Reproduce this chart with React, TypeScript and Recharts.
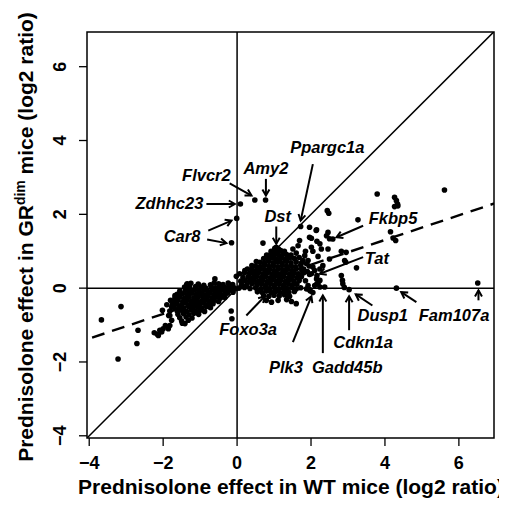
import { ScatterChart, Scatter, XAxis, YAxis, ReferenceLine, ReferenceArea, ReferenceDot, Label } from 'recharts'

const X_DOMAIN: [number, number] = [-4.06, 6.95]
const Y_DOMAIN: [number, number] = [-4.06, 6.94]
const xTicks = [-4, -2, 0, 2, 4, 6]
const yTicks = [-4, -2, 0, 2, 4, 6]

// dashed trend line
const trendIntercept = -0.03
const trendSlope = 0.334

// [WT effect, GRdim effect] pairs
const leftCluster: [number, number][] = [
  [-1.35, 0.1], [-1.05, 0.11], [-0.72, 0.09], [-0.5, 0.12], [-0.38, 0.1], [-0.2, 0.08],
  [-1.42, 0.03], [-1.28, 0.01], [-1.12, 0.04], [-0.98, 0.02], [-0.85, 0.0], [-0.7, 0.03], [-0.58, 0.01], [-0.46, 0.04], [-0.33, 0.02], [-0.22, 0.0], [-0.1, 0.02],
  [-1.55, -0.08], [-1.4, -0.06], [-1.27, -0.09], [-1.15, -0.05], [-1.03, -0.08], [-0.9, -0.06], [-0.78, -0.09], [-0.66, -0.05], [-0.55, -0.08], [-0.43, -0.06], [-0.31, -0.09], [-0.18, -0.05],
  [-1.62, -0.17], [-1.48, -0.15], [-1.35, -0.18], [-1.22, -0.14], [-1.1, -0.17], [-0.97, -0.15], [-0.85, -0.18], [-0.73, -0.14], [-0.61, -0.17], [-0.5, -0.15], [-0.38, -0.18], [-0.26, -0.14],
  [-1.68, -0.26], [-1.55, -0.24], [-1.42, -0.27], [-1.3, -0.23], [-1.17, -0.26], [-1.05, -0.24], [-0.92, -0.27], [-0.8, -0.23], [-0.68, -0.26], [-0.57, -0.24], [-0.45, -0.27], [-0.33, -0.25],
  [-1.72, -0.35], [-1.6, -0.33], [-1.47, -0.36], [-1.35, -0.32], [-1.23, -0.35], [-1.1, -0.33], [-0.98, -0.36], [-0.86, -0.32], [-0.74, -0.35], [-0.62, -0.33], [-0.5, -0.36],
  [-1.75, -0.44], [-1.63, -0.42], [-1.5, -0.45], [-1.38, -0.41], [-1.26, -0.44], [-1.14, -0.42], [-1.02, -0.45], [-0.9, -0.41], [-0.78, -0.44], [-0.65, -0.42],
  [-1.7, -0.53], [-1.57, -0.51], [-1.44, -0.54], [-1.31, -0.5], [-1.19, -0.53], [-1.07, -0.51], [-0.95, -0.54], [-0.83, -0.5], [-0.72, -0.53],
  [-1.62, -0.62], [-1.5, -0.6], [-1.37, -0.63], [-1.24, -0.59], [-1.12, -0.62], [-1.0, -0.6], [-0.88, -0.63],
  [-1.6, -0.71], [-1.45, -0.69], [-1.3, -0.72], [-1.17, -0.68], [-1.04, -0.71],
  [-1.55, -0.8], [-1.38, -0.78], [-1.22, -0.81],
  [-1.5, -0.89], [-1.32, -0.87],
  [-1.9, -0.45], [-1.82, -0.62], [-1.77, -0.87], [-1.82, -0.74], [-1.68, -0.2], [-1.8, -0.33], [-1.41, -0.96],
  [-1.25, 0.13], [-0.9, 0.08], [-0.62, 0.14], [-0.12, 0.1],
]

const centralCluster: [number, number][] = [
  [1.02, 1.08], [1.12, 1.06], [0.92, 1.0],
  [0.98, 1.0], [1.08, 0.98], [1.18, 1.02], [1.28, 1.0],
  [0.8, 0.9], [0.88, 0.9], [0.98, 0.88], [1.1, 0.92], [1.22, 0.89], [1.34, 0.91], [1.46, 0.9],
  [0.72, 0.8], [0.84, 0.78], [0.95, 0.82], [1.06, 0.79], [1.18, 0.81], [1.3, 0.78], [1.42, 0.82], [1.55, 0.8], [1.68, 0.83],
  [0.52, 0.72], [0.62, 0.7], [0.74, 0.68], [0.86, 0.72], [0.98, 0.69], [1.1, 0.71], [1.22, 0.68], [1.34, 0.72], [1.46, 0.69], [1.6, 0.71], [1.74, 0.68],
  [0.4, 0.61], [0.5, 0.6], [0.62, 0.58], [0.74, 0.62], [0.86, 0.59], [0.98, 0.61], [1.1, 0.58], [1.22, 0.62], [1.34, 0.59], [1.46, 0.61], [1.58, 0.58], [1.72, 0.62],
  [0.28, 0.52], [0.4, 0.5], [0.52, 0.48], [0.64, 0.52], [0.76, 0.49], [0.88, 0.51], [1.0, 0.48], [1.12, 0.52], [1.24, 0.49], [1.36, 0.51], [1.48, 0.48], [1.6, 0.52], [1.75, 0.49],
  [0.2, 0.41], [0.34, 0.4], [0.46, 0.38], [0.58, 0.42], [0.7, 0.39], [0.82, 0.41], [0.94, 0.38], [1.06, 0.42], [1.18, 0.39], [1.3, 0.41], [1.42, 0.38], [1.54, 0.42], [1.66, 0.39], [1.8, 0.41],
  [0.16, 0.29], [0.3, 0.3], [0.42, 0.28], [0.54, 0.32], [0.66, 0.29], [0.78, 0.31], [0.9, 0.28], [1.02, 0.32], [1.14, 0.29], [1.26, 0.31], [1.38, 0.28], [1.5, 0.32], [1.62, 0.29], [1.74, 0.31],
  [0.1, 0.19], [0.22, 0.2], [0.34, 0.18], [0.46, 0.22], [0.58, 0.19], [0.7, 0.21], [0.82, 0.18], [0.94, 0.22], [1.06, 0.19], [1.18, 0.21], [1.3, 0.18], [1.42, 0.22], [1.54, 0.19], [1.68, 0.21],
  [0.12, 0.1], [0.26, 0.08], [0.4, 0.12], [0.54, 0.09], [0.66, 0.11], [0.78, 0.08], [0.9, 0.12], [1.02, 0.09], [1.14, 0.11], [1.26, 0.08], [1.38, 0.12], [1.5, 0.09], [1.62, 0.11],
  [0.05, 0.0], [0.2, 0.02], [0.35, -0.01], [0.5, 0.01], [0.64, -0.02], [0.76, 0.01], [0.88, -0.01], [1.0, 0.02], [1.12, -0.02], [1.24, 0.01], [1.36, -0.01], [1.48, 0.02], [1.6, -0.02], [1.72, 0.01],
  [0.55, -0.1], [0.68, -0.12], [0.8, -0.08], [0.92, -0.11], [1.04, -0.09], [1.16, -0.12], [1.28, -0.08], [1.4, -0.11], [1.55, -0.09],
  [0.72, -0.2], [0.86, -0.22], [1.0, -0.19], [1.14, -0.21], [1.28, -0.18], [1.42, -0.22],
  [0.79, -0.33], [0.93, -0.38], [1.11, -0.33], [1.34, -0.31], [1.47, -0.36], [1.6, -0.42], [1.38, -0.21],
  [0.07, 0.39], [0.21, 0.48], [-0.11, -0.11], [-0.05, -0.02],
]

const scattered: [number, number][] = [
  [0.7, 1.22], [1.06, 1.11], [1.72, 1.67], [2.15, 1.58], [2.42, 1.42], [2.5, 1.34], [1.96, 1.38],
  [2.01, 1.11], [2.05, 1.0], [1.69, 1.29], [1.65, 1.15], [1.51, 1.06], [2.24, 1.2], [2.28, 1.06],
  [1.83, 0.88], [1.92, 0.75], [2.05, 0.57], [2.1, 0.48], [2.01, 0.39], [2.15, 0.25], [2.19, 0.12],
  [2.1, 0.07], [2.24, 0.03], [1.92, 0.07], [1.88, -0.02], [1.96, -0.04], [2.37, 0.03], [1.98, -0.08],
  [2.05, -0.12], [1.85, 0.2], [1.9, 0.45], [1.78, 0.75], [1.85, 1.0], [1.6, 0.95], [1.95, 0.6],
  [1.96, 0.37], [2.16, 0.34], [2.24, 0.21], [2.16, 0.12], [2.82, 0.34], [2.85, 0.21], [2.86, 0.12],
  [2.9, 0.02], [3.03, -0.04], [3.23, 0.55], [2.46, 1.06], [2.91, 0.75], [2.94, 0.7], [2.5, 0.79],
  [2.19, 0.86], [2.32, 0.61], [2.24, 0.52], [1.88, 0.66], [1.8, 0.52], [1.96, 1.65], [2.16, 1.27],
  [2.46, 1.51], [2.59, 1.33], [2.44, 2.1], [2.48, 2.03], [3.27, 1.85], [3.79, 2.55], [5.61, 2.66],
  [4.26, 2.46], [4.31, 2.37], [4.34, 2.28], [4.26, 2.21], [4.35, 2.23], [4.15, 1.53], [4.22, 1.36],
  [4.29, 1.29], [2.82, 1.0], [2.95, 0.97], [4.31, 0.0], [6.51, 0.14], [2.01, 1.35], [2.14, 1.56],
  [-0.15, 1.23], [-0.01, 1.89], [0.09, 2.28], [0.48, 2.39], [0.77, 2.39],
  [-0.02, 0.32], [-0.16, -0.62], [-0.14, -0.83], [-0.6, 0.25], [-0.24, 0.14], [-1.35, 0.12],
  [-1.36, 0.09], [-1.34, -0.06],
  [-3.67, -0.86], [-3.14, -0.5], [-3.22, -1.92], [-2.68, -1.14], [-2.71, -1.5], [-2.24, -1.21],
  [-2.16, -1.25], [-2.09, -1.14], [-2.0, -1.1], [-1.94, -1.01], [-2.02, -0.6], [-1.85, -0.74],
  [-1.77, -0.51], [-1.48, -0.95], [-2.13, -1.28], [-2.04, -1.19], [-1.86, -1.1], [-1.82, -1.01],
]

const points = [...leftCluster, ...centralCluster, ...scattered].map(([x, y]) => ({ x, y }))

type Pt = [number, number]
const annotations: { gene: string; text: Pt; arrows: [Pt, Pt][] }[] = [
  { gene: 'Ppargc1a', text: [2.44, 3.67], arrows: [[[2.05, 3.36], [1.72, 1.83]]] },
  { gene: 'Amy2', text: [0.78, 3.1], arrows: [[[0.78, 2.96], [0.78, 2.51]]] },
  { gene: 'Flvcr2', text: [-0.83, 2.91], arrows: [[[-0.2, 2.84], [0.39, 2.51]]] },
  { gene: 'Zdhhc23', text: [-1.83, 2.15], arrows: [[[-0.83, 2.28], [-0.06, 2.28]]] },
  { gene: 'Car8', text: [-1.49, 1.24], arrows: [[[-0.78, 1.56], [-0.15, 1.83]], [[-0.81, 1.32], [-0.29, 1.22]]] },
  { gene: 'Dst', text: [1.1, 1.78], arrows: [[[1.06, 1.67], [1.06, 1.2]]] },
  { gene: 'Fkbp5', text: [4.22, 1.74], arrows: [[[3.41, 1.69], [2.69, 1.38]]] },
  { gene: 'Tat', text: [3.78, 0.66], arrows: [[[3.41, 0.84], [2.24, 0.39]]] },
  { gene: 'Foxo3a', text: [0.3, -1.28], arrows: [[[0.25, -0.74], [0.75, -0.22]]] },
  { gene: 'Plk3', text: [1.32, -2.3], arrows: [[[1.51, -1.46], [2.01, -0.22]]] },
  { gene: 'Gadd45b', text: [2.98, -2.3], arrows: [[[2.32, -1.76], [2.32, -0.2]]] },
  { gene: 'Cdkn1a', text: [3.41, -1.62], arrows: [[[3.03, -1.14], [3.03, -0.22]]] },
  { gene: 'Dusp1', text: [3.94, -0.89], arrows: [[[3.66, -0.47], [3.21, -0.17]]] },
  { gene: 'Fam107a', text: [5.87, -0.89], arrows: [[[4.85, -0.38], [4.44, -0.11]], [[6.53, -0.33], [6.53, -0.06]]] },
]

const FONT = '"Liberation Sans", Arial, Helvetica, sans-serif'

const fmt = (v: number) => (v < 0 ? '\u2212' + Math.abs(v) : String(v))

const XTick = ({ x, payload }: any) => (
  <text x={x} y={461} textAnchor="middle" fontFamily={FONT} fontWeight="bold" fontSize={18} fill="#000">
    {fmt(payload.value)}
  </text>
)

const YTick = ({ y, payload }: any) => (
  <text x={58} y={y} transform={`rotate(-90, 58, ${y})`} textAnchor="middle" fontFamily={FONT} fontWeight="bold" fontSize={18} fill="#000">
    {fmt(payload.value)}
  </text>
)

const Dot = (p: any) => <circle cx={p.cx} cy={p.cy} r={2.8} fill="#000" />

const Arrow = (p: any) => {
  const { x1, y1, x2, y2 } = p
  const a = Math.atan2(y2 - y1, x2 - x1)
  const h = 7
  const w = Math.PI / 6
  const ax = x2 - h * Math.cos(a - w)
  const ay = y2 - h * Math.sin(a - w)
  const bx = x2 - h * Math.cos(a + w)
  const by = y2 - h * Math.sin(a + w)
  return (
    <g>
      <line x1={x1} y1={y1} x2={x2} y2={y2} stroke="#000" strokeWidth={2} />
      <polyline points={`${ax},${ay} ${x2},${y2} ${bx},${by}`} fill="none" stroke="#000" strokeWidth={2} />
    </g>
  )
}

const geneLabel = (gene: string) => (p: any) => (
  <text x={p.cx} y={p.cy} textAnchor="middle" fontFamily={FONT} fontWeight="bold" fontStyle="italic" fontSize={16.5} fill="#000">
    {gene}
  </text>
)

export default function App() {
  return (
    <ScatterChart width={497} height={494} margin={{ top: 24, right: 11, bottom: 0, left: 0 }}>
      <XAxis
        type="number"
        dataKey="x"
        domain={X_DOMAIN}
        ticks={xTicks}
        interval={0}
        allowDataOverflow
        height={64}
        axisLine={false}
        tickLine={{ stroke: '#000', strokeWidth: 1.3 }}
        tickSize={8}
        tick={<XTick />}
      >
        <Label
          content={() => (
            <text x={283} y={486} textAnchor="middle" fontFamily={FONT} fontWeight="bold" fontSize={21} fill="#000">
              Prednisolone effect in WT mice (log2 ratio)
            </text>
          )}
        />
      </XAxis>
      <YAxis
        type="number"
        dataKey="y"
        domain={Y_DOMAIN}
        ticks={yTicks}
        interval={0}
        allowDataOverflow
        width={79}
        axisLine={false}
        tickLine={{ stroke: '#000', strokeWidth: 1.3 }}
        tickSize={8}
        tick={<YTick />}
      >
        <Label
          content={() => (
            <text x={25} y={229} transform="rotate(-90, 25, 229)" textAnchor="middle" fontFamily={FONT} fontWeight="bold" fontSize={21} fill="#000">
              Prednisolone effect in GR
              <tspan dy={-8} fontSize={14}>dim</tspan>
              <tspan dy={8}> mice (log2 ratio)</tspan>
            </text>
          )}
        />
      </YAxis>

      <ReferenceLine x={0} stroke="#000" strokeWidth={1.5} />
      <ReferenceLine y={0} stroke="#000" strokeWidth={1.5} />
      <ReferenceLine
        segment={[{ x: -5, y: -5 }, { x: 8, y: 8 }]}
        ifOverflow="hidden"
        stroke="#000"
        strokeWidth={1.5}
      />
      <ReferenceLine
        segment={[
          { x: -5, y: trendIntercept + trendSlope * -5 },
          { x: 8, y: trendIntercept + trendSlope * 8 },
        ]}
        ifOverflow="hidden"
        stroke="#000"
        strokeWidth={2.4}
        strokeDasharray="13 8"
      />

      <Scatter data={points} fill="#000" shape={Dot} isAnimationActive={false} />

      {annotations.map((a) =>
        a.arrows.map(([from, to], i) => (
          <ReferenceLine
            key={`${a.gene}-arrow-${i}`}
            segment={[{ x: from[0], y: from[1] }, { x: to[0], y: to[1] }]}
            ifOverflow="visible"
            shape={Arrow}
          />
        ))
      )}
      {annotations.map((a) => (
        <ReferenceDot key={`${a.gene}-label`} x={a.text[0]} y={a.text[1]} r={0} ifOverflow="visible" shape={geneLabel(a.gene)} />
      ))}

      <ReferenceArea x1={X_DOMAIN[0]} x2={X_DOMAIN[1]} y1={Y_DOMAIN[0]} y2={Y_DOMAIN[1]} fill="none" stroke="#000" strokeWidth={1.5} />
    </ScatterChart>
  )
}
